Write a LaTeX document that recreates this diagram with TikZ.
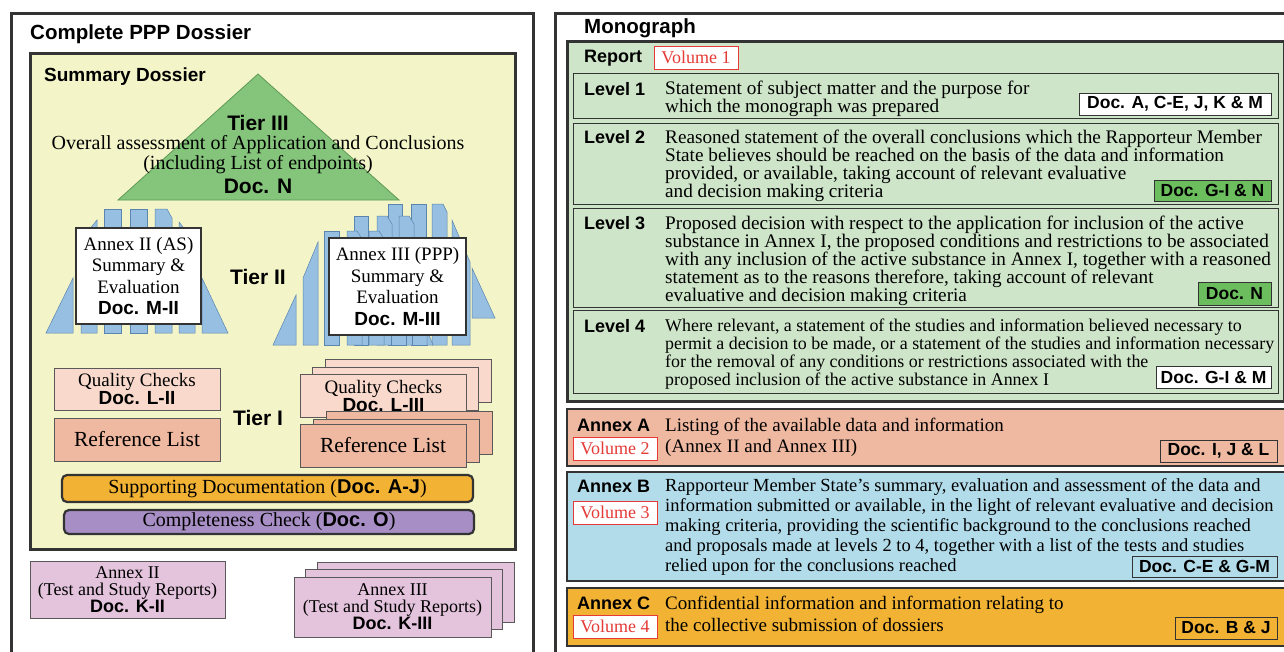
\documentclass[tikz,border=0pt]{standalone}
\usepackage{fontspec}
\setmainfont{Liberation Serif}
\setsansfont{Liberation Sans}
\usetikzlibrary{positioning}
\definecolor{frm}{HTML}{333333}
\definecolor{sumyellow}{HTML}{F3F4C7}
\definecolor{trigreen}{HTML}{84C47B}
\definecolor{triedge}{HTML}{5E9A55}
\definecolor{bookblue}{HTML}{97BFE2}
\definecolor{bookedge}{HTML}{5A85AE}
\definecolor{qcpink}{HTML}{F8D9CC}
\definecolor{refsalmon}{HTML}{EFB8A1}
\definecolor{suporange}{HTML}{F2B233}
\definecolor{complpurple}{HTML}{A78FC5}
\definecolor{testlilac}{HTML}{E4C4DD}
\definecolor{repgreen}{HTML}{CEE5C9}
\definecolor{docgreen}{HTML}{6CBD5E}
\definecolor{annexblue}{HTML}{B3DCEA}
\definecolor{volred}{HTML}{E53A35}
\newcommand{\docb}[1]{{\sffamily\bfseries #1}}
\tikzset{frame/.style={draw=frm,line width=2.6pt,inner sep=0pt}}
\tikzset{levbox/.style={draw=frm,line width=1.4pt,fill=repgreen,inner sep=0pt,anchor=north west,minimum width=705pt}}
\tikzset{annexbox/.style={draw=frm,line width=1.8pt,inner sep=0pt,anchor=north west,minimum width=730pt}}
\tikzset{book/.style={draw=bookedge,fill=bookblue,line width=0.5pt}}
\tikzset{card/.style={draw=black!65,line width=1pt,inner sep=0pt,align=center}}
\tikzset{bar/.style={draw=frm,line width=2.2pt,rounded corners=5pt,inner sep=0pt,font=\fontsize{20}{20}\selectfont}}
\tikzset{hd/.style={inner sep=0pt,anchor=west,font=\fontsize{20.5}{22}\selectfont\sffamily\bfseries}}
\tikzset{lbl/.style={inner sep=0pt,anchor=west,font=\fontsize{18}{18}\selectfont\sffamily\bfseries}}
\tikzset{tier/.style={inner sep=0pt,font=\fontsize{21}{22}\selectfont\sffamily\bfseries}}
\tikzset{body/.style={inner sep=0pt,anchor=west,align=left,font=\fontsize{19.2}{18}\selectfont}}
\tikzset{docbox/.style={draw=frm,line width=1pt,inner sep=0pt,font=\fontsize{17.5}{17.5}\selectfont\sffamily\bfseries}}
\tikzset{vol/.style={draw=volred,line width=0.8pt,fill=white,text=volred,inner sep=0pt,minimum width=84pt,minimum height=23pt,font=\fontsize{18}{18}\selectfont}}

\begin{document}
\begin{tikzpicture}[x=1pt,y=-1pt]
\useasboundingbox (0,0) rectangle (1284,651);
\clip (0,0) rectangle (1284,651);
\fill[white] (0,0) rectangle (1284,651);

% left side
\node[frame,anchor=north west,minimum width=522pt,minimum height=700pt] (ppp) at (10,12) {};
\node[hd] (ppptitle) at (30,34) {Complete PPP Dossier};
\node[frame,fill=sumyellow,anchor=north west,minimum width=485pt,minimum height=496pt] (summary) at (29,52) {};
\node[inner sep=0pt,anchor=west,font=\fontsize{19}{20}\selectfont\sffamily\bfseries] (sumtitle) at (44,77) {Summary Dossier};

\draw[fill=trigreen,draw=triedge,line width=0.8pt] (118,200) -- (258,74) -- (399,200) -- cycle;
\node[tier] (tierthree) at (258,123) {Tier III};
\node[inner sep=0pt,align=center,font=\fontsize{20}{20}\selectfont] (assess) at (258,155) {Overall assessment of Application and Conclusions\\(including List of endpoints)};
\node[tier] (docn) at (258,186) {Doc. N};

\draw[book] (46,333) -- (73,278) -- (73,333) -- cycle;
\draw[book] (81,333) -- (81,240) -- (97,220) -- (97,333) -- cycle;
\draw[book] (104,209) rectangle (121,333);
\draw[book] (130,209) rectangle (147,333);
\draw[book] (155,333) -- (155,209) -- (167,209) -- (172,218) -- (172,333) -- cycle;
\draw[book] (179,333) -- (179,222) -- (195,242) -- (195,333) -- cycle;
\draw[book] (202,278) -- (228,333) -- (202,333) -- cycle;
\node[card,fill=white,draw=frm,line width=1.6pt,minimum width=125pt,minimum height=96pt,font=\fontsize{19}{21.5}\selectfont] (annextwo) at (138.5,276) {Annex II (AS)\\Summary \&\\Evaluation\\\docb{Doc. M-II}};

\draw[book] (273,345) -- (296,295) -- (296,345) -- cycle;
\draw[book] (303,345) -- (303,278) -- (318,242) -- (318,345) -- cycle;
\draw[book] (388,204) rectangle (402,345);
\draw[book] (411,204) rectangle (426,345);
\draw[book] (432,345) -- (432,204) -- (443,204) -- (447,212) -- (447,345) -- cycle;
\draw[book] (452,220) -- (470,262) -- (470,345) -- (452,345) -- cycle;
\draw[book] (472,268) -- (495,318) -- (472,318) -- cycle;
\draw[book] (354,216) rectangle (368,345);
\draw[book] (377,345) -- (377,216) -- (387,216) -- (392,224) -- (392,345) -- cycle;
\draw[book] (399,345) -- (399,216) -- (409,216) -- (414,224) -- (414,345) -- cycle;
\draw[book] (324,231) rectangle (339,345);
\draw[book] (347,345) -- (347,231) -- (357,231) -- (362,239) -- (362,345) -- cycle;
\draw[book] (369,345) -- (369,231) -- (379,231) -- (384,239) -- (384,345) -- cycle;
\draw[book] (391,300) rectangle (406,345);
\draw[book] (412,300) rectangle (427,345);
\draw[book] (427,330) -- (433,345) -- (427,345) -- cycle;
\node[card,fill=white,draw=frm,line width=1.6pt,minimum width=137pt,minimum height=97pt,font=\fontsize{19}{21.5}\selectfont] (annexthree) at (397.5,286.5) {Annex III (PPP)\\Summary \&\\Evaluation\\\docb{Doc. M-III}};

\node[tier] (tiertwo) at (258,277) {Tier II};
\node[tier] (tierone) at (258,418) {Tier I};

\node[card,fill=qcpink,minimum width=166pt,minimum height=42pt,font=\fontsize{19}{18}\selectfont] (qctwo) at (137,389) {Quality Checks\\\docb{Doc. L-II}};
\node[card,fill=refsalmon,minimum width=166pt,minimum height=43pt,font=\fontsize{21.5}{22}\selectfont] (reftwo) at (137,439.5) {Reference List};

\node[card,fill=qcpink,minimum width=166pt,minimum height=43pt] (qcthreec) at (408,380.5) {};
\node[card,fill=qcpink,minimum width=166pt,minimum height=43pt] (qcthreeb) at (395.5,388.5) {};
\node[card,fill=qcpink,minimum width=166pt,minimum height=43pt,font=\fontsize{19}{18}\selectfont] (qcthree) at (383.5,395.5) {Quality Checks\\\docb{Doc. L-III}};
\node[card,fill=refsalmon,minimum width=166pt,minimum height=43pt] (refthreec) at (409.5,432.5) {};
\node[card,fill=refsalmon,minimum width=166pt,minimum height=43pt] (refthreeb) at (396,440.5) {};
\node[card,fill=refsalmon,minimum width=166pt,minimum height=43pt,font=\fontsize{21.5}{22}\selectfont] (refthree) at (383,445.5) {Reference List};

\node[bar,fill=suporange,minimum width=411pt,minimum height=27pt] (support) at (267.5,488.5) {Supporting Documentation (\docb{Doc. A-J})};
\node[bar,fill=complpurple,minimum width=410pt,minimum height=24pt] (complete) at (269,522) {Completeness Check (\docb{Doc. O})};

\node[card,fill=testlilac,minimum width=195pt,minimum height=57pt,font=\fontsize{18}{17}\selectfont] (testtwo) at (127.5,589.5) {Annex II\\(Test and Study Reports)\\\docb{Doc. K-II}};
\node[card,fill=testlilac,minimum width=197pt,minimum height=60pt] (testthreec) at (415.5,592) {};
\node[card,fill=testlilac,minimum width=197pt,minimum height=60pt] (testthreeb) at (404,599) {};
\node[card,fill=testlilac,minimum width=197pt,minimum height=60pt,font=\fontsize{18}{17}\selectfont] (testthree) at (392.5,607) {Annex III\\(Test and Study Reports)\\\docb{Doc. K-III}};

% right side
\node[frame,anchor=north west,minimum width=760pt,minimum height=700pt] (mono) at (554,12) {};
\node[hd] (monotitle) at (584,28) {Monograph};
\node[frame,fill=repgreen,anchor=north west,minimum width=717pt,minimum height=360pt] (report) at (566,40) {};
\node[lbl] (reportlbl) at (584,58) {Report};
\node[vol] (volone) at (696,57.5) {Volume 1};

\node[levbox,minimum height=45pt] (levone) at (573,73) {};
\node[lbl] (levonelbl) at (584,89) {Level 1};
\node[body] (levonetxt) at (665,99) {Statement of subject matter and the purpose for\\which the monograph was prepared};
\node[docbox,fill=white,minimum width=192pt,minimum height=22pt] (levonedoc) at (1175,104) {Doc. A, C-E, J, K \& M};

\node[levbox,minimum height=81pt] (levtwo) at (573,123) {};
\node[lbl] (levtwolbl) at (584,137) {Level 2};
\node[body] (levtwotxt) at (665,166) {Reasoned statement of the overall conclusions which the Rapporteur Member\\State believes should be reached on the basis of the data and information\\provided, or available, taking account of relevant evaluative\\and decision making criteria};
\node[docbox,fill=docgreen,minimum width=117pt,minimum height=21pt] (levtwodoc) at (1212.5,190.5) {Doc. G-I \& N};

\node[levbox,minimum height=99pt] (levthree) at (573,208) {};
\node[lbl] (levthreelbl) at (584,223) {Level 3};
\node[body] (levthreetxt) at (665,261) {Proposed decision with respect to the application for inclusion of the active\\substance in Annex I, the proposed conditions and restrictions to be associated\\with any inclusion of the active substance in Annex I, together with a reasoned\\statement as to the reasons therefore, taking account of relevant\\evaluative and decision making criteria};
\node[docbox,fill=docgreen,minimum width=73pt,minimum height=23pt] (levthreedoc) at (1234.5,293.5) {Doc. N};

\node[levbox,minimum height=83pt] (levfour) at (573,310) {};
\node[lbl] (levfourlbl) at (584,326) {Level 4};
\node[body,font=\fontsize{17.9}{18}\selectfont] (levfourtxt) at (665,354) {Where relevant, a statement of the studies and information believed necessary to\\permit a decision to be made, or a statement of the studies and information necessary\\for the removal of any conditions or restrictions associated with the\\proposed inclusion of the active substance in Annex I};
\node[docbox,fill=white,minimum width=115pt,minimum height=22pt] (levfourdoc) at (1213.5,377) {Doc. G-I \& M};

\node[annexbox,fill=refsalmon,minimum height=57pt] (annexa) at (566,408) {};
\node[lbl] (annexalbl) at (577,425) {Annex A};
\node[vol] (voltwo) at (615,448.5) {Volume 2};
\node[body,font=\fontsize{19}{21}\selectfont] (annexatxt) at (665,437.5) {Listing of the available data and information\\(Annex II and Annex III)};
\node[docbox,minimum width=117pt,minimum height=22pt] (annexadoc) at (1218.5,451) {Doc. I, J \& L};

\node[annexbox,fill=annexblue,minimum height=109pt] (annexb) at (566,471) {};
\node[lbl] (annexblbl) at (577,486) {Annex B};
\node[vol] (volthree) at (615,512.5) {Volume 3};
\node[body,font=\fontsize{18.5}{20}\selectfont] (annexbtxt) at (665,526.5) {Rapporteur Member State’s summary, evaluation and assessment of the data and\\information submitted or available, in the light of relevant evaluative and decision\\making criteria, providing the scientific background to the conclusions reached\\and proposals made at levels 2 to 4, together with a list of the tests and studies\\relied upon for the conclusions reached};
\node[docbox,minimum width=145pt,minimum height=21pt] (annexbdoc) at (1204.5,566.5) {Doc. C-E \& G-M};

\node[annexbox,fill=suporange,minimum height=58pt] (annexc) at (566,587) {};
\node[lbl] (annexclbl) at (577,603) {Annex C};
\node[vol] (volfour) at (615,626.5) {Volume 4};
\node[body,font=\fontsize{19}{22}\selectfont] (annexctxt) at (665,613.5) {Confidential information and information relating to\\the collective submission of dossiers};
\node[docbox,minimum width=102pt,minimum height=22pt] (annexcdoc) at (1226,628) {Doc. B \& J};
\end{tikzpicture}
\end{document}
